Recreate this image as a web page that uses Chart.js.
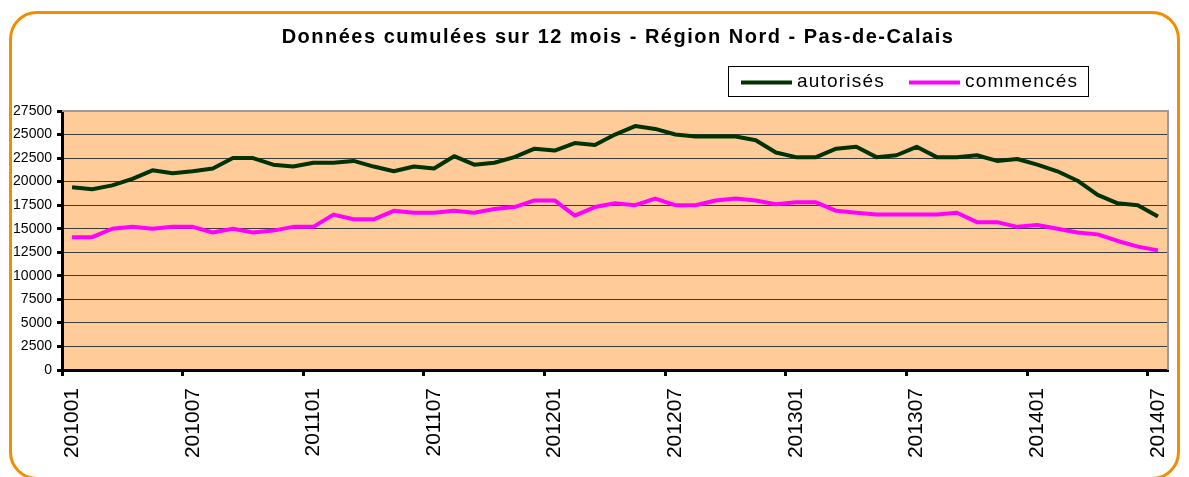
<!DOCTYPE html>
<html>
<head>
<meta charset="utf-8">
<script src="https://cdn.jsdelivr.net/npm/chart.js@4"></script>
<style>
  html, body { margin: 0; padding: 0; background: #fff; overflow: hidden; }
  #wrap { position: relative; width: 1189px; height: 477px; }
  #frame { position: absolute; left: 9px; top: 11px; width: 1171px; height: 469px;
           border: 3px solid #F28C00; border-radius: 28px; box-sizing: border-box; }
  #myChart { position: absolute; left: 0; top: 0; }
</style>
</head>
<body>
<div id="wrap">
  <div id="frame"></div>
  <canvas id="myChart" width="1189" height="477"></canvas>
</div>
<script>
// mois (aaaamm)
const months = ['201001','201002','201003','201004','201005','201006','201007','201008','201009','201010','201011','201012',
  '201101','201102','201103','201104','201105','201106','201107','201108','201109','201110','201111','201112',
  '201201','201202','201203','201204','201205','201206','201207','201208','201209','201210','201211','201212',
  '201301','201302','201303','201304','201305','201306','201307','201308','201309','201310','201311','201312',
  '201401','201402','201403','201404','201405','201406','201407'];

const autorises = [19400,19200,19600,20300,21200,20900,21100,21400,22500,22500,21800,21600,
  22000,22000,22200,21600,21100,21600,21400,22700,21800,22000,22600,23500,
  23300,24100,23900,25000,25900,25600,25000,24800,24800,24800,24400,23100,
  22600,22600,23500,23700,22600,22800,23700,22600,22600,22800,22200,22400,
  21800,21100,20100,18600,17700,17500,16300];

const commences = [14100,14100,15000,15200,15000,15200,15200,14600,15000,14600,14800,15200,
  15200,16500,16000,16000,16900,16700,16700,16900,16700,17100,17300,18000,
  18000,16400,17300,17700,17500,18200,17500,17500,18000,18200,18000,17600,
  17800,17800,16900,16700,16500,16500,16500,16500,16700,15700,15700,15200,
  15400,15000,14600,14400,13700,13100,12700];

const yTicks = [0,2500,5000,7500,10000,12500,15000,17500,20000,22500,25000,27500];

const title = 'Données cumulées sur 12 mois - Région Nord - Pas-de-Calais';
const FONT = "'Liberation Sans', Arial, sans-serif";

// fond orange de la zone de tracé + cadre gris
const plotBg = {
    id: 'plotBg',
    beforeDraw(chart){
        const {ctx, chartArea: a} = chart;
        ctx.save();
        ctx.fillStyle = '#FFCC99';
        ctx.fillRect(a.left, a.top, a.right - a.left, a.bottom - a.top);
        ctx.restore();
    },
    beforeDatasetsDraw(chart){
        const {ctx, chartArea: a} = chart;
        ctx.save();
        ctx.strokeStyle = '#9a9a9a';
        ctx.lineWidth = 2;
        ctx.beginPath();
        ctx.moveTo(a.left, a.top);
        ctx.lineTo(a.right, a.top);
        ctx.lineTo(a.right, a.bottom);
        ctx.stroke();
        ctx.restore();
    }
};

// titre + légende encadrée
const deco = {
    id: 'deco',
    afterDraw(chart){
        const ctx = chart.ctx;
        ctx.save();
        ctx.fillStyle = '#000';
        ctx.font = 'bold 20px ' + FONT;
        ctx.letterSpacing = '1.5px';
        ctx.textAlign = 'center';
        ctx.textBaseline = 'middle';
        ctx.fillText(title, 618, 37);

        // légende
        ctx.fillStyle = '#fff';
        ctx.fillRect(728.5, 66.5, 360, 30);
        ctx.strokeStyle = '#000';
        ctx.lineWidth = 1;
        ctx.strokeRect(728.5, 66.5, 360, 30);
        const items = [[741, 797], [909, 965]];
        ctx.font = '19px ' + FONT;
        ctx.letterSpacing = '1.2px';
        ctx.textAlign = 'left';
        chart.data.datasets.forEach((ds, i) => {
            const [lx, tx] = items[i];
            ctx.strokeStyle = ds.borderColor;
            ctx.lineWidth = 4;
            ctx.beginPath();
            ctx.moveTo(lx, 82.5);
            ctx.lineTo(lx + 51, 82.5);
            ctx.stroke();
            ctx.fillStyle = '#000';
            ctx.fillText(ds.label, tx, 82);
        });
        ctx.restore();
    }
};

const config = {
    type: 'line',
    data: {
        labels: months,
        datasets: [
            {label: 'autorisés', data: autorises, borderColor: '#003300', borderWidth: 4,
             pointRadius: 0, tension: 0, borderJoinStyle: 'round', fill: false},
            {label: 'commencés', data: commences, borderColor: '#FF00FF', borderWidth: 4,
             pointRadius: 0, tension: 0, borderJoinStyle: 'round', fill: false}
        ]
    },
    options: {
        responsive: false,
        animation: false,
        layout: {padding: {top: 111, right: 21, left: 0, bottom: 0}},
        plugins: {
            legend: {display: false},
            title: {display: false},
            tooltip: {enabled: false}
        },
        scales: {
            x: {
                type: 'category',
                offset: true,
                afterFit: s => { s.height = 107; s.paddingLeft = 0; s.paddingRight = 0; },
                border: {display: true, color: '#000', width: 3},
                grid: {
                    offset: true,
                    drawOnChartArea: false,
                    drawTicks: true,
                    tickLength: 6,
                    tickWidth: 3,
                    tickColor: c => (c.index !== undefined && c.index % 6 === 0) ? '#000' : 'rgba(0,0,0,0)'
                },
                ticks: {
                    autoSkip: false,
                    minRotation: 90,
                    maxRotation: 90,
                    padding: 12,
                    color: '#000',
                    font: {family: FONT, size: 21},
                    callback: function(v, i){ return i % 6 === 0 ? this.getLabelForValue(v) : ''; }
                }
            },
            y: {
                min: 0,
                max: 27500,
                afterFit: s => { s.width = 62; s.paddingTop = 0; s.paddingBottom = 0; },
                afterBuildTicks: s => { s.ticks = yTicks.map(v => ({value: v})); },
                border: {display: true, color: '#000', width: 3},
                grid: {
                    color: c => c.tick && c.tick.value === 27500 ? '#9a9a9a' : '#3a3a3a',
                    lineWidth: 1,
                    drawTicks: true,
                    tickLength: 5,
                    tickWidth: 3,
                    tickColor: '#000'
                },
                ticks: {
                    padding: 5,
                    color: '#000',
                    font: {family: FONT, size: 14},
                    callback: v => String(v)
                }
            }
        }
    },
    plugins: [plotBg, deco]
};

new Chart(document.getElementById('myChart').getContext('2d'), config);
</script>
</body>
</html>
